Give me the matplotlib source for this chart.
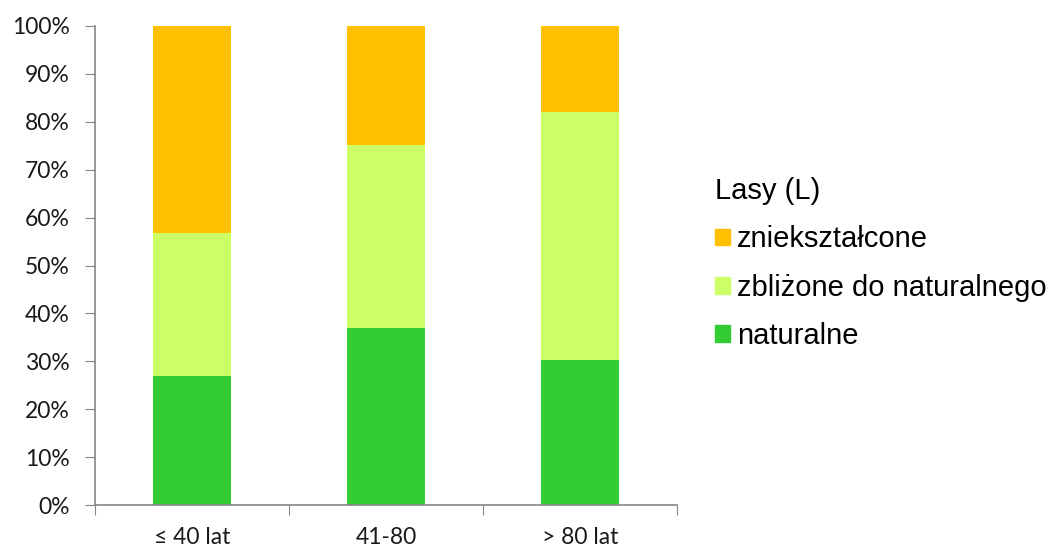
import matplotlib.pyplot as plt
from matplotlib.patches import Patch
from matplotlib.ticker import PercentFormatter

categories = ["≤ 40 lat", "41-80", "> 80 lat"]
naturalne = [27.0, 37.0, 30.3]
zblizone = [29.7, 38.1, 51.8]
znieksztalcone = [43.3, 24.9, 17.9]

c_nat = "#33CC33"
c_zbl = "#CCFF66"
c_zni = "#FFC000"

fig = plt.figure(figsize=(10.54, 5.52), dpi=100)
ax = fig.add_axes([0.0901, 0.0851, 0.552, 0.8678])

x = range(len(categories))
bottom2 = [a + b for a, b in zip(naturalne, zblizone)]
ax.bar(x, naturalne, width=0.4, color=c_nat)
ax.bar(x, zblizone, width=0.4, bottom=naturalne, color=c_zbl)
ax.bar(x, znieksztalcone, width=0.4, bottom=bottom2, color=c_zni)

ax.set_xlim(-0.5, 2.5)
ax.set_ylim(0, 100)
ax.set_yticks(range(0, 101, 10))
ax.yaxis.set_major_formatter(PercentFormatter(decimals=0))
ax.set_xticks([-0.5, 0.5, 1.5, 2.5])
ax.set_xticklabels([])
ax.set_xticks(list(x), minor=True)
ax.set_xticklabels(categories, minor=True)
ax.tick_params(axis="x", which="minor", length=0, pad=16)
ax.tick_params(axis="x", which="major", length=7, color="#868686")
ax.tick_params(axis="y", length=7, color="#868686", pad=11)
for lbl in ax.get_xticklabels(minor=True) + ax.get_yticklabels():
    lbl.set_fontfamily("Lato")
    lbl.set_fontsize(16.5)
    lbl.set_color("#1a1a1a")

for s in ["top", "right"]:
    ax.spines[s].set_visible(False)
for s in ["left", "bottom"]:
    ax.spines[s].set_color("#868686")
    ax.spines[s].set_linewidth(1.2)

handles = [Patch(color=c_zni), Patch(color=c_zbl), Patch(color=c_nat)]
labels = ["zniekształcone", "zbliżone do naturalnego", "naturalne"]
leg = fig.legend(handles, labels, title="Lasy (L)", loc="upper left",
                 bbox_to_anchor=(0.665, 0.706), frameon=False,
                 prop={"family": "Liberation Sans", "size": 21},
                 title_fontproperties={"family": "Liberation Sans", "size": 21},
                 handlelength=0.5, handleheight=0.5, handletextpad=0.25,
                 labelspacing=0.7, borderpad=0, alignment="left")

fig.savefig("out.png", dpi=100)
